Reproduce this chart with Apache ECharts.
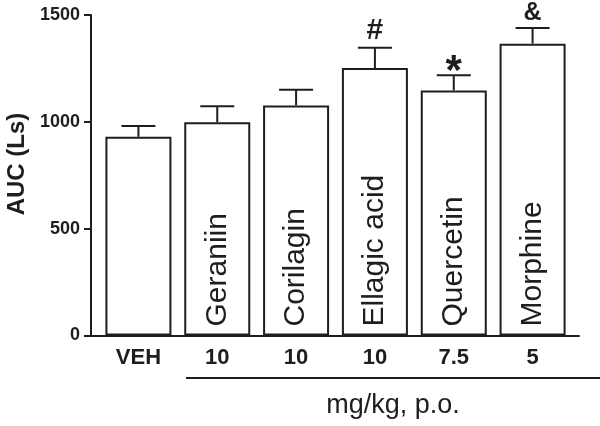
<!DOCTYPE html>
<html>
<head>
<meta charset="utf-8">
<script src="https://cdn.jsdelivr.net/npm/echarts@6/dist/echarts.min.js"></script>
<style>html,body{margin:0;padding:0;background:#fff}#c{width:600px;height:426px}</style>
</head>
<body>
<div id="c"></div>
<script>
var doseLabels = ['VEH', '10', '10', '10', '7.5', '5'];
var drugNames = ['', 'Geraniin', 'Corilagin', 'Ellagic acid', 'Quercetin', 'Morphine'];
var meanAUC = [930, 998, 1077, 1252, 1147, 1366];
var semAUC = [50, 75, 73, 95, 71, 73];
var sigMarks = ['', '', '', '#', '*', '&'];
var yTicks = [0, 500, 1000, 1500];

var FONT = '"Liberation Sans", Arial, Helvetica, sans-serif';
var INK = '#1e1e1e';
var markStyle = {
  '#': { size: 30, dy: -17 },
  '*': { size: 42, dy: -3 },
  '&': { size: 25, dy: -15 }
};

var errData = meanAUC.map(function (m, i) { return [i, m, m + semAUC[i], sigMarks[i]]; });
var barData = meanAUC.map(function (m, i) { return { value: m, label: { formatter: drugNames[i] } }; });

var chart = echarts.init(document.getElementById('c'), null, { renderer: 'canvas' });
chart.setOption({
  animation: false,
  backgroundColor: '#ffffff',
  grid: [
    { left: 91, right: 21, top: 15, bottom: 90.5 },
    { left: 99, right: 28, top: 15, bottom: 90.5 }
  ],
  xAxis: [
    { gridIndex: 0, type: 'value', min: 0, max: 1, axisLine: { show: true, onZero: false, lineStyle: { color: INK, width: 2 } },
      axisTick: { show: false }, axisLabel: { show: false }, splitLine: { show: false } },
    { gridIndex: 1, type: 'category', data: doseLabels, boundaryGap: true,
      axisLine: { show: false }, axisTick: { show: false },
      axisLabel: { margin: 11, color: INK, fontFamily: FONT, fontWeight: 'bold', fontSize: 22 } }
  ],
  yAxis: [
    { gridIndex: 0, type: 'value', min: yTicks[0], max: yTicks[yTicks.length - 1], interval: 500,
      axisLine: { show: true, lineStyle: { color: INK, width: 2 } },
      axisTick: { show: true, length: 7, lineStyle: { color: INK, width: 2 } },
      axisLabel: { margin: 11, color: INK, fontFamily: FONT, fontWeight: 'bold', fontSize: 18,
        formatter: function (v) { return String(v); } },
      splitLine: { show: false } },
    { gridIndex: 1, type: 'value', min: yTicks[0], max: yTicks[yTicks.length - 1], show: false }
  ],
  graphic: [
    { type: 'line', shape: { x1: 186, y1: 378, x2: 600, y2: 378 }, style: { stroke: INK, lineWidth: 2 } },
    { type: 'text', x: 393, y: 406, style: { text: 'mg/kg, p.o.', font: '27px ' + FONT, fill: INK, textAlign: 'center', textVerticalAlign: 'middle' } },
    { type: 'text', x: 17, y: 164, rotation: Math.PI / 2, style: { text: 'AUC (Ls)', font: 'bold 24px ' + FONT, fill: INK, textAlign: 'center', textVerticalAlign: 'middle' } }
  ],
  series: [
    { type: 'bar', xAxisIndex: 1, yAxisIndex: 1, data: barData, barWidth: 66,
      itemStyle: { color: '#ffffff', borderColor: INK, borderWidth: 2 },
      label: { show: true, position: 'insideBottom', rotate: 90, align: 'left', verticalAlign: 'middle', distance: 9,
        color: INK, fontFamily: FONT, fontSize: 30 } },
    { type: 'custom', xAxisIndex: 1, yAxisIndex: 1, data: errData, z: 5,
      renderItem: function (params, api) {
        var base = api.coord([api.value(0), api.value(1)]);
        var top = api.coord([api.value(0), api.value(2)]);
        var hw = 17;
        var children = [
          { type: 'line', shape: { x1: base[0], y1: base[1], x2: top[0], y2: top[1] }, style: { stroke: INK, lineWidth: 2 } },
          { type: 'line', shape: { x1: top[0] - hw, y1: top[1], x2: top[0] + hw, y2: top[1] }, style: { stroke: INK, lineWidth: 2 } }
        ];
        var mk = sigMarks[params.dataIndex];
        if (mk) {
          var ms = markStyle[mk];
          children.push({ type: 'text', x: top[0], y: top[1] + ms.dy,
            style: { text: mk, font: 'bold ' + ms.size + 'px ' + FONT, fill: INK, textAlign: 'center', textVerticalAlign: 'middle' } });
        }
        return { type: 'group', children: children };
      } }
  ]
});
</script>
</body>
</html>
